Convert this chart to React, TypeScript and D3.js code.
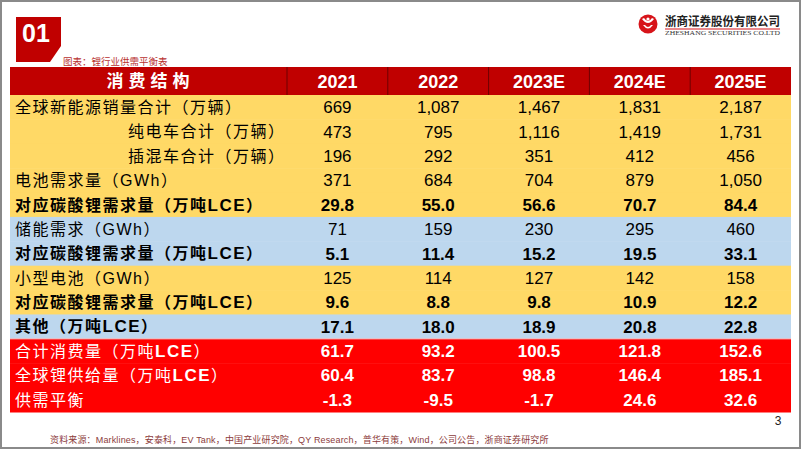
import React from 'react';
import * as d3 from 'd3';

// ---------- data ----------
const years = ['2021', '2022', '2023E', '2024E', '2025E'];
const headerLabel = '消费结构';
const rowLabels = [
  '全球新能源销量合计（万辆）',
  '纯电车合计（万辆）',
  '插混车合计（万辆）',
  '电池需求量（GWh）',
  '对应碳酸锂需求量（万吨LCE）',
  '储能需求（GWh）',
  '对应碳酸锂需求量（万吨LCE）',
  '小型电池（GWh）',
  '对应碳酸锂需求量（万吨LCE）',
  '其他（万吨LCE）',
  '合计消费量（万吨LCE）',
  '全球锂供给量（万吨LCE）',
  '供需平衡',
];
const nevSales = [669, 1087, 1467, 1831, 2187];
const bevSales = [473, 795, 1116, 1419, 1731];
const phevSales = [196, 292, 351, 412, 456];
const evBatteryGWh = [371, 684, 704, 879, 1050];
const evLce = [29.8, 55.0, 56.6, 70.7, 84.4];
const essGWh = [71, 159, 230, 295, 460];
const essLce = [5.1, 11.4, 15.2, 19.5, 33.1];
const smallBatteryGWh = [125, 114, 127, 142, 158];
const smallLce = [9.6, 8.8, 9.8, 10.9, 12.2];
const otherLce = [17.1, 18.0, 18.9, 20.8, 22.8];
const totalDemand = [61.7, 93.2, 100.5, 121.8, 152.6];
const globalSupply = [60.4, 83.7, 98.8, 146.4, 185.1];
const supplyBalance = [-1.3, -9.5, -1.7, 24.6, 32.6];

const rowValues = [
  nevSales, bevSales, phevSales, evBatteryGWh, evLce, essGWh, essLce,
  smallBatteryGWh, smallLce, otherLce, totalDemand, globalSupply, supplyBalance,
];

const caption = '图表：锂行业供需平衡表';
const source =
  '资料来源：Marklines，安泰科，EV Tank，中国产业研究院，QY Research，普华有策，Wind，公司公告，浙商证券研究所';

// ---------- styles ----------
const W = 802;
const H = 451;
const DARK_RED = '#C00000';
const YELLOW = '#FFD966';
const BLUE = '#BDD7EE';
const RED = '#FF0000';
// per-row theme: background, integer format, bold, indent
const rowBg = [YELLOW, YELLOW, YELLOW, YELLOW, YELLOW, BLUE, BLUE, YELLOW, YELLOW, BLUE, RED, RED, RED];
const rowInt = [true, true, true, true, false, true, false, true, false, false, false, false, false];
const rowBold = [false, false, false, false, true, false, true, false, true, true, false, false, false];
const rowIndent = [false, true, true, false, false, false, false, false, false, false, false, false, false];

const locale = d3.formatLocale({
  decimal: '.',
  thousands: ',',
  grouping: [3],
  currency: ['', ''],
  minus: '-',
});
const fmtInt = locale.format(',');
const fmtDec = locale.format('.1f');

const LATIN = 'Liberation Sans, Arial, Noto Sans CJK SC, sans-serif';

function Label({ text, x, y, size, bold, latinBold, fill, spacing }: any) {
  const parts = text.split(/([A-Za-z]+)/).filter((s: string) => s.length);
  return (
    <text x={x} y={y} fontSize={size} fill={fill} fontFamily={LATIN} letterSpacing={spacing}>
      {parts.map((p: string, i: number) => {
        const isLatin = /^[A-Za-z]+$/.test(p);
        const w = isLatin ? (latinBold ? 'bold' : 'normal') : bold ? 'bold' : 'normal';
        return (
          <tspan key={i} fontWeight={w} fontSize={isLatin && latinBold ? size + 1 : size}>
            {p}
          </tspan>
        );
      })}
    </text>
  );
}

export default function App() {
  const tableLeft = 10;
  const tableRight = 791;
  const firstColRight = 287;
  const headerTop = 67;
  const headerBottom = 95;
  const bodyBottom = 412;

  const x = d3.scaleBand<string>().domain(years).range([firstColRight, tableRight]).padding(0);
  const y = d3
    .scaleBand<number>()
    .domain(d3.range(rowLabels.length))
    .range([headerBottom, bodyBottom])
    .padding(0);
  const bw = x.bandwidth();
  const bh = y.bandwidth();

  return (
    <div style={{ position: 'absolute', left: 0, top: 0, width: W, height: H, background: '#fff' }}>
      <svg width={W} height={H} style={{ display: 'block' }}>
        <rect x={0} y={0} width={W} height={H} fill="#fff" />
        {/* frame */}
        <rect x={1} y={1} width={799} height={447} fill="none" stroke="#8a8a8a" strokeWidth={2} />

        {/* 01 badge */}
        <path d="M16,17 H61 V46 L50,62 H16 Z" fill={DARK_RED} />
        <text x={36} y={42} fill="#fff" fontSize={25} fontWeight="bold" fontFamily={LATIN} textAnchor="middle">
          01
        </text>
        <text x={63} y={65} fill="#B8312F" fontSize={9.5} fontFamily="Noto Sans CJK SC, sans-serif">
          {caption}
        </text>

        {/* logo */}
        <g transform="translate(648,24)">
          <circle r={9.5} fill="#D7141A" />
          <path d="M-6,-5 Q0,3 6,-5 L4,-6 Q0,0 -4,-6 Z" fill="#fff" />
          <path d="M-5,1 Q0,8 5,1 L3,1 Q0,5 -3,1 Z" fill="#fff" />
          <circle cx={0} cy={-5} r={1.6} fill="#fff" />
        </g>
        <text x={665} y={26} fontSize={12.5} fontWeight="bold" fill="#222" fontFamily="Noto Sans CJK SC, sans-serif" textLength={115} lengthAdjust="spacingAndGlyphs">
          浙商证券股份有限公司
        </text>
        <line x1={665} x2={780} y1={29} y2={29} stroke="#D7141A" strokeWidth={1} />
        <text x={665} y={35} fontSize={5.5} fill="#333" fontFamily="Liberation Serif, serif" textLength={115} lengthAdjust="spacingAndGlyphs">
          ZHESHANG SECURITIES CO.LTD
        </text>

        {/* header */}
        <rect x={tableLeft} y={headerTop} width={tableRight - tableLeft} height={headerBottom - headerTop} fill={DARK_RED} />
        {[firstColRight, ...years.slice(1).map((yr) => x(yr)!)].map((lx, i) => (
          <line key={i} x1={lx} x2={lx} y1={headerTop} y2={headerBottom} stroke="#6e0000" strokeWidth={1} />
        ))}
        <text
          x={(tableLeft + firstColRight) / 2 + 2}
          y={(headerTop + headerBottom) / 2 + 6}
          fill="#fff"
          fontSize={17}
          fontWeight="bold"
          textAnchor="middle"
          letterSpacing={5}
          fontFamily="Noto Sans CJK SC, sans-serif"
        >
          {headerLabel}
        </text>
        {years.map((yr) => (
          <text
            key={yr}
            x={x(yr)! + bw / 2}
            y={(headerTop + headerBottom) / 2 + 6.5}
            fill="#fff"
            fontSize={18}
            fontWeight="bold"
            textAnchor="middle"
            fontFamily={LATIN}
          >
            {yr}
          </text>
        ))}

        {/* body rows */}
        {rowLabels.map((lab, r) => {
          const cy = y(r)! + bh / 2;
          const isRed = rowBg[r] === RED;
          const fill = isRed ? '#fff' : '#000';
          return (
            <g key={r}>
              <rect x={tableLeft} y={y(r)!} width={tableRight - tableLeft} height={bh + 0.5} fill={rowBg[r]} />
              <Label
                text={lab}
                x={rowIndent[r] ? 128 : 15}
                y={cy + 5.8}
                size={16}
                bold={rowBold[r]}
                latinBold={rowBold[r] || isRed}
                fill={fill}
                spacing={1.5}
              />
              {rowValues[r].map((v, c) => (
                <text
                  key={c}
                  x={x(years[c])! + bw / 2}
                  y={cy + 6}
                  fill={fill}
                  fontSize={17}
                  fontWeight={rowBold[r] || isRed ? 'bold' : 'normal'}
                  textAnchor="middle"
                  fontFamily={LATIN}
                >
                  {rowInt[r] ? fmtInt(v) : fmtDec(v)}
                </text>
              ))}
            </g>
          );
        })}
        <line x1={tableLeft} x2={tableRight} y1={y(10)!} y2={y(10)!} stroke="#f4c7c7" strokeWidth={1} />

        {/* page number */}
        <text x={778} y={425} fontSize={12} fill="#222" textAnchor="middle" fontFamily={LATIN}>
          3
        </text>

        {/* source */}
        <text x={50} y={443} fontSize={9} fill="#8C3B3B" fontFamily={LATIN} letterSpacing={0.15}>
          {source}
        </text>
      </svg>
    </div>
  );
}
